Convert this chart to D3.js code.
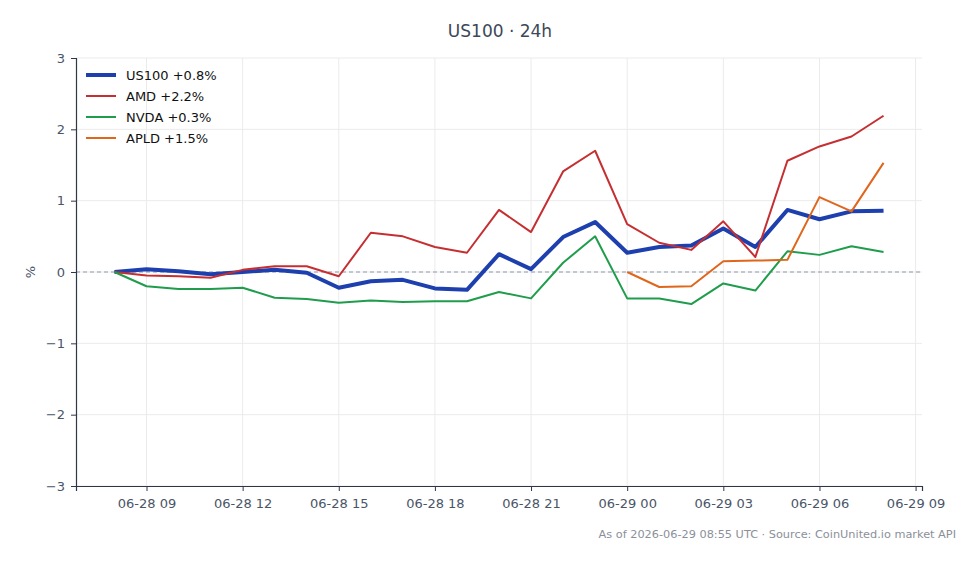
<!DOCTYPE html>
<html>
	<head>
		<meta charset="utf-8">
		<title>US100 24h</title>
		<script src="https://d3js.org/d3.v7.min.js"></script>
		<style>
			body { margin: 0; background: #fff; }
			text { font-family: "DejaVu Sans", sans-serif; }
		</style>
	</head>
	<body>
		<script>

		// hourly points, 06-28 08:00 .. 06-29 08:00 UTC
		var startTime = Date.UTC(2026, 5, 28, 8);
		var hours = d3.range(25).map(function(i){ return new Date(startTime + i * 3600000); });

		var us100 = [0.00, 0.04, 0.01, -0.03, 0.00, 0.03, -0.01, -0.22, -0.13, -0.11, -0.23, -0.25, 0.25, 0.04, 0.49, 0.70, 0.27, 0.35, 0.37, 0.61, 0.35, 0.87, 0.74, 0.85, 0.86];
		var amd = [0.00, -0.05, -0.06, -0.08, 0.03, 0.08, 0.08, -0.06, 0.55, 0.50, 0.35, 0.27, 0.87, 0.56, 1.41, 1.70, 0.67, 0.41, 0.31, 0.71, 0.21, 1.56, 1.76, 1.90, 2.19];
		var nvda = [0.00, -0.20, -0.24, -0.24, -0.22, -0.36, -0.38, -0.43, -0.40, -0.42, -0.41, -0.41, -0.28, -0.37, 0.13, 0.50, -0.37, -0.37, -0.45, -0.16, -0.26, 0.29, 0.24, 0.36, 0.28];
		var apld = [null, null, null, null, null, null, null, null, null, null, null, null, null, null, null, null, 0.00, -0.21, -0.20, 0.15, 0.16, 0.17, 1.05, 0.85, 1.53];

		var seriesNames = ["US100 +0.8%", "AMD +2.2%", "NVDA +0.3%", "APLD +1.5%"];
		var seriesColors = ["#1e40af", "#c62f32", "#1f9d4c", "#e0661c"];
		var seriesWidths = [4, 2, 2, 2];
		var seriesValues = [us100, amd, nvda, apld];

		var yTicks = [-3, -2, -1, 0, 1, 2, 3];

		var W = 980, H = 564;
		var margin = {top: 58, right: 58, bottom: 78, left: 76};
		var pw = W - margin.left - margin.right,
			ph = H - margin.top - margin.bottom;

		var svg = d3.select("body").append("svg")
			.attr("width", W)
			.attr("height", H);

		var pad = (hours[24] - hours[0]) * 0.05;
		var x = d3.scaleUtc()
			.domain([new Date(+hours[0] - pad), new Date(+hours[24] + pad)])
			.range([0, pw]);
		var y = d3.scaleLinear().domain([-3, 3]).range([ph, 0]);

		var g = svg.append("g").attr("transform", "translate(" + margin.left + "," + margin.top + ")");

		var xTickVals = x.ticks(d3.utcHour.every(3));

		// grid
		g.append("g").selectAll("line").data(xTickVals).enter().append("line")
			.attr("x1", function(d){ return x(d); }).attr("x2", function(d){ return x(d); })
			.attr("y1", 0).attr("y2", ph)
			.attr("stroke", "#ebebeb").attr("stroke-width", 1);
		g.append("g").selectAll("line").data(yTicks).enter().append("line")
			.attr("x1", 0).attr("x2", pw)
			.attr("y1", function(d){ return y(d); }).attr("y2", function(d){ return y(d); })
			.attr("stroke", "#ebebeb").attr("stroke-width", 1);

		// zero line
		g.append("line")
			.attr("x1", 0).attr("x2", pw)
			.attr("y1", y(0)).attr("y2", y(0))
			.attr("stroke", "#8d9bb0").attr("stroke-width", 1)
			.attr("stroke-dasharray", "4,3");

		// axes
		var xAxis = g.append("g").attr("transform", "translate(0," + ph + ")")
			.call(d3.axisBottom(x).tickValues(xTickVals).tickFormat(d3.utcFormat("%m-%d %H")).tickSizeOuter(0).tickSize(5).tickPadding(8));
		var yAxis = g.append("g")
			.call(d3.axisLeft(y).tickValues(yTicks).tickFormat(function(d){ return d < 0 ? "\u2212" + Math.abs(d) : d; }).tickSizeOuter(0).tickSize(5).tickPadding(6));

		[xAxis, yAxis].forEach(function(a){
			a.select(".domain").attr("stroke", "#2d3748").attr("stroke-width", 1.2);
			a.selectAll(".tick line").attr("stroke", "#2d3748");
			a.selectAll(".tick text").attr("fill", "#4a5568").style("font-size", "13px").style("font-family", "DejaVu Sans");
		});

		svg.append("text")
			.attr("transform", "translate(35," + (margin.top + y(0)) + ") rotate(-90)")
			.attr("text-anchor", "middle")
			.attr("fill", "#4a5568")
			.style("font-size", "13px")
			.text("%");

		// lines, US100 first so the others sit over it
		var line = d3.line()
			.defined(function(d){ return d.v !== null; })
			.x(function(d){ return x(d.t); })
			.y(function(d){ return y(d.v); });

		seriesValues.forEach(function(vals, i){
			var pts = vals.map(function(v, j){ return {t: hours[j], v: v}; });
			g.append("path")
				.datum(pts)
				.attr("fill", "none")
				.attr("stroke", seriesColors[i])
				.attr("stroke-width", seriesWidths[i])
				.attr("stroke-linejoin", "round")
				.attr("d", line);
		});

		// legend
		var leg = svg.append("g").attr("transform", "translate(86,75)");
		seriesNames.forEach(function(name, i){
			var row = leg.append("g").attr("transform", "translate(0," + (i * 21) + ")");
			row.append("line").attr("x1", 0).attr("x2", 30).attr("y1", 0).attr("y2", 0)
				.attr("stroke", seriesColors[i]).attr("stroke-width", seriesWidths[i]);
			row.append("text").attr("x", 40).attr("y", 5)
				.attr("fill", "#111")
				.style("font-size", "13px")
				.text(name);
		});

		// title and footer
		svg.append("text")
			.attr("x", 500).attr("y", 37)
			.attr("text-anchor", "middle")
			.attr("fill", "#3c4858")
			.style("font-size", "17px")
			.text("US100 \u00b7 24h");

		svg.append("text")
			.attr("x", 956).attr("y", 538)
			.attr("text-anchor", "end")
			.attr("fill", "#8a9099")
			.style("font-size", "11.3px")
			.text("As of 2026-06-29 08:55 UTC \u00b7 Source: CoinUnited.io market API");

		</script>
	</body>
</html>
